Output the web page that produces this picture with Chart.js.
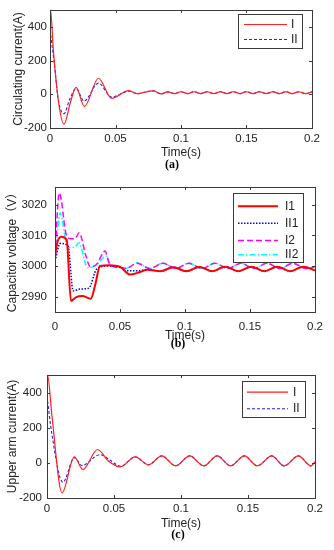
<!DOCTYPE html>
<html>
<head>
<meta charset="utf-8">
<script src="https://cdn.jsdelivr.net/npm/chart.js@4"></script>
<style>
  body { margin: 0; background: #fff; width: 334px; height: 550px; position: relative; overflow: hidden; }
  canvas { position: absolute; left: 0; }
  .cap { position: absolute; font: bold 12px "Liberation Serif", "Times New Roman", serif; color: #000; transform: translateX(-50%); }
</style>
</head>
<body>
<canvas id="chartA" width="334" height="162" style="top:0px"></canvas>
<canvas id="chartB" width="334" height="175" style="top:170px"></canvas>
<canvas id="chartC" width="334" height="173" style="top:360px"></canvas>
<div class="cap" style="left:172px;top:157px">(a)</div>
<div class="cap" style="left:178px;top:336px">(b)</div>
<div class="cap" style="left:178px;top:527px">(c)</div>
<script>
// shared x axis
const xTicks = [0, 0.05, 0.1, 0.15, 0.2]
const xTickLabels = ["0", "0.05", "0.1", "0.15", "0.2"]

// (a) circulating current
const aTicks = [-200, 0, 200, 400]
const aT_I  = [0, 0.0004, 0.0025, 0.0064, 0.0107, 0.0155, 0.0199, 0.0262, 0.037, 0.047, 0.060, 0.067, 0.072, 0.079, 0.085, 0.090, 0.095, 0.100, 0.105, 0.110, 0.115, 0.120, 0.125, 0.130, 0.135, 0.140, 0.145, 0.150, 0.155, 0.160, 0.165, 0.170, 0.175, 0.180, 0.185, 0.190, 0.195, 0.200]
const aV_I  = [0, 500, 270, -40, -177, -50, 41, -72, 95, -25, 21, 3, 12, 20, 2, 14, 4, 15, 4, 15, 4, 15, 4, 15, 4, 15, 4, 15, 4, 15, 4, 15, 4, 15, 4, 15, 4, 14]
const aT_II = [0, 0.003, 0.0065, 0.0107, 0.015, 0.020, 0.026, 0.037, 0.047, 0.060, 0.067, 0.072, 0.079, 0.085, 0.090, 0.095, 0.100, 0.105, 0.110, 0.115, 0.120, 0.125, 0.130, 0.135, 0.140, 0.145, 0.150, 0.155, 0.160, 0.165, 0.170, 0.175, 0.180, 0.185, 0.190, 0.195, 0.200]
const aV_II = [380, 200, -40, -115, -30, 33, -41, 66, -17, 18, 3, 12, 20, 2, 14, 4, 15, 4, 15, 4, 15, 4, 15, 4, 15, 4, 15, 4, 15, 4, 15, 4, 15, 4, 15, 4, 14]

// (b) capacitor voltage
const bTicks = [2990, 3000, 3010, 3020]
const bT_I1  = [0, 0.002, 0.005, 0.009, 0.0123, 0.016, 0.021, 0.0275, 0.031, 0.0346, 0.042, 0.050, 0.0577, 0.065, 0.071, 0.081, 0.091, 0.101, 0.111, 0.121, 0.131, 0.141, 0.151, 0.161, 0.171, 0.181, 0.191, 0.200]
const bV_I1  = [3003.3, 3008, 3009.6, 3008.5, 2988.6, 2989.8, 2990.2, 2989.3, 2994, 3000, 3000.3, 2999.8, 2997.2, 2998, 2998.8, 2998.3, 2999.6, 2998.3, 2999.7, 2998.3, 2999.8, 2998.3, 2999.8, 2998.3, 2999.8, 2998.3, 2999.8, 2998.6]
const bT_II1 = [0, 0.004, 0.010, 0.014, 0.019, 0.026, 0.032, 0.040, 0.050, 0.055, 0.065, 0.071, 0.081, 0.091, 0.101, 0.111, 0.121, 0.131, 0.141, 0.151, 0.161, 0.171, 0.181, 0.191, 0.200]
const bV_II1 = [3001.6, 3007.4, 3006.5, 2991.9, 2992.5, 2992.8, 2999, 3000, 2999.6, 2998.5, 2998.5, 2998.9, 2998.3, 2999.6, 2998.3, 2999.7, 2998.3, 2999.8, 2998.3, 2999.8, 2998.3, 2999.8, 2998.3, 2999.8, 2998.6]
const bT_I2  = [0, 0.0033, 0.009, 0.0128, 0.0154, 0.0185, 0.0238, 0.027, 0.032, 0.0385, 0.042, 0.050, 0.055, 0.063, 0.073, 0.083, 0.093, 0.103, 0.113, 0.123, 0.133, 0.143, 0.153, 0.163, 0.173, 0.183, 0.193, 0.200]
const bV_I2  = [3003.8, 3023.9, 3009.8, 3008.9, 3008.9, 3010.9, 3003.3, 2999.8, 3000.6, 3004.9, 3000.6, 2999.5, 2999.3, 3000.9, 2999.2, 3000.9, 2999.2, 3000.9, 2999.2, 3000.9, 2999.2, 3000.9, 2999.2, 3000.9, 2999.2, 3000.9, 2999.2, 2999.8]
const bT_II2 = [0, 0.004, 0.009, 0.0128, 0.016, 0.0185, 0.025, 0.032, 0.039, 0.0436, 0.050, 0.055, 0.063, 0.073, 0.083, 0.093, 0.103, 0.113, 0.123, 0.133, 0.143, 0.153, 0.163, 0.173, 0.183, 0.193, 0.200]
const bV_II2 = [3001.6, 3017.4, 3007, 3006, 3006.5, 3007.6, 2999.5, 3000.3, 3003.3, 2999.8, 2999.5, 2999.3, 3001.1, 2999.2, 3000.9, 2999.2, 3000.9, 2999.2, 3000.9, 2999.2, 3000.9, 2999.2, 3000.9, 2999.2, 3000.9, 2999.2, 2999.8]

// (c) upper arm current
const cTicks = [-200, 0, 200, 400]
const cT_I  = [0, 0.0004, 0.0037, 0.0112, 0.0204, 0.0268, 0.0377, 0.046, 0.0546, 0.0658, 0.0757, 0.0857, 0.096, 0.1065, 0.117, 0.127, 0.137, 0.1473, 0.157, 0.1677, 0.177, 0.1876, 0.197, 0.200]
const cV_I  = [0, 500, 266, -171, 34, -38, 76, 9, -23, 34, -11, 40, -17, 40, -17, 40, -17, 40, -17, 40, -17, 40, -17, 5]
const cT_II = [0, 0.0035, 0.0119, 0.0204, 0.026, 0.0397, 0.048, 0.055, 0.0658, 0.0757, 0.0857, 0.096, 0.1065, 0.117, 0.127, 0.137, 0.1473, 0.157, 0.1677, 0.177, 0.1876, 0.197, 0.200]
const cV_II = [380, 170, -111, 30, -15, 47, 10, -20, 34, -11, 40, -17, 40, -17, 40, -17, 40, -17, 40, -17, 40, -17, 5]

const FONT = "'Liberation Sans', Arial, 'Noto Sans CJK SC', sans-serif"
const pts = (ts, vs) => ts.map((t, i) => ({ x: t, y: vs[i] }))

// box round the plot, inward ticks, legend inside the axes
const frame = {
  id: 'frame',
  afterDatasetsDraw(chart, args, o) {
    const { ctx, chartArea: a, scales: { x, y } } = chart
    ctx.save()
    ctx.strokeStyle = '#3a3a3a'
    ctx.lineWidth = 1
    ctx.setLineDash([])
    ctx.strokeRect(Math.round(a.left) + 0.5, Math.round(a.top) + 0.5, Math.round(a.width), Math.round(a.height))
    ctx.beginPath()
    x.ticks.forEach(t => {
      const p = Math.round(x.getPixelForValue(t.value)) + 0.5
      ctx.moveTo(p, a.bottom); ctx.lineTo(p, a.bottom - 3)
      ctx.moveTo(p, a.top); ctx.lineTo(p, a.top + 3)
    })
    y.ticks.forEach(t => {
      const p = Math.round(y.getPixelForValue(t.value)) + 0.5
      ctx.moveTo(a.left, p); ctx.lineTo(a.left + 3, p)
      ctx.moveTo(a.right, p); ctx.lineTo(a.right - 3, p)
    })
    ctx.stroke()

    const L = o.legend
    ctx.fillStyle = '#fff'
    ctx.fillRect(L.x, L.y, L.w, L.h)
    ctx.strokeRect(L.x + 0.5, L.y + 0.5, L.w, L.h)
    ctx.font = '12px ' + FONT
    ctx.textBaseline = 'middle'
    chart.data.datasets.forEach((ds, i) => {
      const yy = L.rows[i] + 0.5
      ctx.strokeStyle = ds.borderColor
      ctx.lineWidth = ds.borderWidth
      ctx.setLineDash(ds.borderDash || [])
      ctx.beginPath(); ctx.moveTo(L.x1, yy); ctx.lineTo(L.x2, yy); ctx.stroke()
      ctx.fillStyle = '#222'
      ctx.fillText(ds.label, L.tx, yy)
    })
    ctx.restore()
  }
}

function makeChart(id, datasets, o) {
  return new Chart(document.getElementById(id), {
    type: 'line',
    data: { datasets },
    plugins: [frame],
    options: {
      responsive: false,
      animation: false,
      events: [],
      layout: { padding: { top: o.top, right: o.right, left: 0, bottom: 0 } },
      elements: { point: { radius: 0 }, line: { cubicInterpolationMode: 'monotone' } },
      plugins: { legend: { display: false }, tooltip: { enabled: false }, frame: { legend: o.legend } },
      scales: {
        x: {
          type: 'linear', min: 0, max: 0.2,
          grid: { display: false, drawTicks: false },
          border: { display: false },
          afterBuildTicks: s => { s.ticks = xTicks.map(v => ({ value: v })) },
          afterFit: s => { s.height = o.xh },
          ticks: { padding: o.xpad, color: '#222', font: { family: FONT, size: 11.5 }, maxRotation: 0, callback: (v, i) => xTickLabels[i] },
          title: { display: true, text: 'Time(s)', color: '#222', font: { family: FONT, size: 12 }, padding: { top: 0, bottom: 2 } }
        },
        y: {
          min: o.min, max: o.max,
          grid: { display: false, drawTicks: false },
          border: { display: false },
          afterBuildTicks: s => { s.ticks = o.ticks.map(v => ({ value: v })) },
          afterFit: s => { s.width = o.left },
          ticks: { padding: o.ypad, color: '#222', font: { family: FONT, size: 11.5 }, callback: v => String(v) },
          title: { display: true, text: o.ytitle, color: '#222', font: { family: FONT, size: 12 }, padding: { top: o.ytpad, bottom: 0 } }
        }
      }
    }
  })
}

makeChart('chartA', [
  { label: 'I', data: pts(aT_I, aV_I), borderColor: '#ff2020', borderWidth: 1.2 },
  { label: 'II', data: pts(aT_II, aV_II), borderColor: '#2020ff', borderWidth: 1.1, borderDash: [3, 2] }
], { top: 7, right: 22, left: 50, xh: 34, xpad: 4, ypad: 3, ytpad: 11, min: -200, max: 500, ticks: aTicks,
     ytitle: 'Circulating current(A)',
     legend: { x: 238, y: 14, w: 64, h: 34, rows: [24, 39], x1: 244, x2: 287, tx: 291 } })

makeChart('chartB', [
  { label: 'I1', data: pts(bT_I1, bV_I1), borderColor: '#ff0000', borderWidth: 2 },
  { label: 'II1', data: pts(bT_II1, bV_II1), borderColor: '#0000ff', borderWidth: 1.5, borderDash: [1.5, 1.5] },
  { label: 'I2', data: pts(bT_I2, bV_I2), borderColor: '#ff00ff', borderWidth: 1.5, borderDash: [6, 3] },
  { label: 'II2', data: pts(bT_II2, bV_II2), borderColor: '#00ffff', borderWidth: 1.5, borderDash: [6, 2, 1.5, 2] }
], { top: 17, right: 19, left: 55, xh: 33, xpad: 8, ypad: 8, ytpad: 5, min: 2985, max: 3025.8, ticks: bTicks,
     ytitle: 'Capacitor voltage（V）',
     legend: { x: 233 , y: 23, w: 70, h: 69, rows: [35.7, 52.7, 70, 84.3], x1: 238, x2: 278, tx: 285 } })

makeChart('chartC', [
  { label: 'I', data: pts(cT_I, cV_I), borderColor: '#ff2020', borderWidth: 1.2 },
  { label: 'II', data: pts(cT_II, cV_II), borderColor: '#2020ff', borderWidth: 1.1, borderDash: [3, 2] }
], { top: 15, right: 19, left: 47, xh: 35, xpad: 4, ypad: 5, ytpad: 5, min: -200, max: 500, ticks: cTicks,
     ytitle: 'Upper arm current(A)',
     legend: { x: 242, y: 21, w: 63, h: 36, rows: [31.7, 48.3], x1: 247, x2: 288, tx: 293 } })
</script>
</body>
</html>
